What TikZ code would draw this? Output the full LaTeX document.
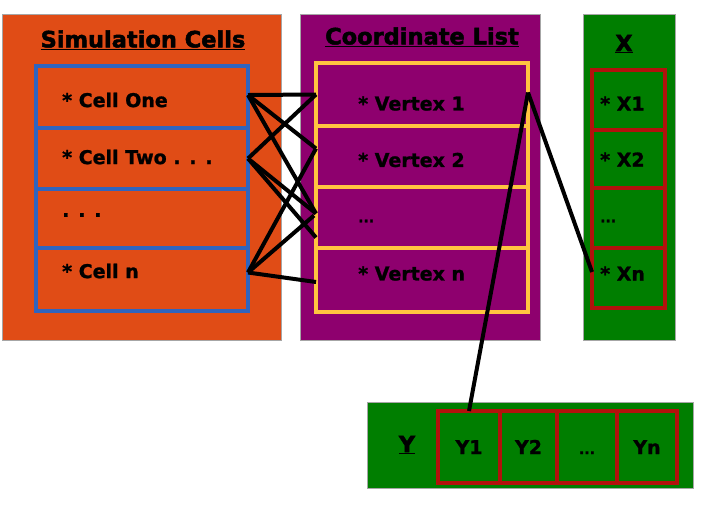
\documentclass[tikz,border=0pt]{standalone}
\usepackage{fontspec}
\setmainfont{DejaVu Sans}[BoldFeatures={FakeBold=1.2}]
\newfontfamily\headfont{DejaVu Sans Bold}[FakeBold=2.2]
\definecolor{cellorange}{RGB}{224,76,22}
\definecolor{listpurple}{RGB}{142,0,110}
\definecolor{arraygreen}{RGB}{0,126,0}
\definecolor{cellblue}{RGB}{48,100,190}
\definecolor{listyellow}{RGB}{255,196,64}
\definecolor{arrayred}{RGB}{178,18,12}
\begin{document}
\begin{tikzpicture}[x=1pt, y=-1pt,
    panel/.style={draw=gray!70, line width=0.6pt},
    row/.style={draw, line width=3.5pt, inner sep=0pt, outer sep=0pt, minimum width=#1},
    title/.style={font=\fontsize{22.5}{26}\selectfont\headfont},
    entry/.style={anchor=west, inner sep=0pt, font=\fontsize{19}{22}\selectfont\bfseries},
    smalldots/.style={anchor=west, inner sep=0pt, font=\fontsize{14}{16}\selectfont\bfseries},
    link/.style={black, line width=4pt}]
    \useasboundingbox (0,0) rectangle (703,507);

    % panels
    \filldraw[panel, fill=cellorange] (2,14) rectangle (281,340);
    \filldraw[panel, fill=listpurple] (300,14) rectangle (540,340);
    \filldraw[panel, fill=arraygreen] (583,14) rectangle (675,340);
    \filldraw[panel, fill=arraygreen] (367,402) rectangle (693,488);

    \node[title] (celltitle) at (143,40) {\underline{Simulation Cells}};
    \node[title] (listtitle) at (422,37) {\underline{Coordinate List}};
    \node[title] (xtitle) at (624,44) {\underline{X}};
    \node[title] (ytitle) at (407,445) {\underline{Y}};

    % simulation cells
    \node[row=212pt, cellblue, minimum height=62pt] (cell1) at (142,97) {};
    \node[row=212pt, cellblue, minimum height=61pt] (cell2) at (142,158.5) {};
    \node[row=212pt, cellblue, minimum height=59pt] (cell3) at (142,218.5) {};
    \node[row=212pt, cellblue, minimum height=63pt] (celln) at (142,279.5) {};
    \node[entry] (tcell1) at (62,100) {* Cell One};
    \node[entry] (tcell2) at (62,157) {* Cell Two . . .};
    \node[entry] (tcell3) at (62,215) {. . .};
    \node[entry] (tcelln) at (62,271) {* Cell n};

    % coordinate list
    \node[row=212pt, listyellow, minimum height=63pt] (vert1) at (422,94.5) {};
    \node[row=212pt, listyellow, minimum height=61pt] (vert2) at (422,156.5) {};
    \node[row=212pt, listyellow, minimum height=61pt] (vert3) at (422,217.5) {};
    \node[row=212pt, listyellow, minimum height=64pt] (vertn) at (422,280) {};
    \node[entry] (tvert1) at (358,103.5) {* Vertex 1};
    \node[entry] (tvert2) at (358,160) {* Vertex 2};
    \node[smalldots] (tvert3) at (358,221) {...};
    \node[entry] (tvertn) at (358,273.5) {* Vertex n};

    % x values
    \node[row=73pt, arrayred, minimum height=60pt] (x1) at (628.5,100) {};
    \node[row=73pt, arrayred, minimum height=58pt] (x2) at (628.5,159) {};
    \node[row=73pt, arrayred, minimum height=60pt] (x3) at (628.5,218) {};
    \node[row=73pt, arrayred, minimum height=60pt] (xn) at (628.5,278) {};
    \node[entry] (tx1) at (600,103.5) {* X1};
    \node[entry] (tx2) at (600,159.5) {* X2};
    \node[smalldots] (tx3) at (600,221) {...};
    \node[entry] (txn) at (600,273.5) {* Xn};

    % y values
    \node[row=62pt, arrayred, minimum height=72pt, text=black, text height=14pt, text depth=0pt, font=\fontsize{19}{22}\selectfont\bfseries] (y1) at (469,447) {Y1};
    \node[row=57pt, arrayred, minimum height=72pt, text=black, text height=14pt, text depth=0pt, font=\fontsize{19}{22}\selectfont\bfseries] (y2) at (528.5,447) {Y2};
    \node[row=60pt, arrayred, minimum height=72pt, text=black, text height=14pt, text depth=0pt, font=\fontsize{14}{16}\selectfont\bfseries] (y3) at (587,447) {...};
    \node[row=60pt, arrayred, minimum height=72pt, text=black, text height=14pt, text depth=0pt, font=\fontsize{19}{22}\selectfont\bfseries] (yn) at (647,447) {Yn};

    % cells to vertices
    \draw[link] ([yshift=2pt]cell1.east) -- (vert1.west);
    \draw[link] ([yshift=2pt]cell1.east) -- ([yshift=8pt]vert2.west);
    \draw[link] ([yshift=2pt]cell1.east) -- ([yshift=4pt]vert3.west);
    \draw[link] (cell2.east) -- (vert1.west);
    \draw[link] (cell2.east) -- ([yshift=4pt]vert3.west);
    \draw[link] (cell2.east) -- ([yshift=-20pt]vert3.west);
    \draw[link] ([yshift=7pt]celln.east) -- ([yshift=8pt]vert2.west);
    \draw[link] ([yshift=7pt]celln.east) -- ([xshift=-2pt,yshift=2pt]vert3.west);
    \draw[link] ([yshift=7pt]celln.east) -- ([yshift=-2pt]vertn.west);

    % vertex to x and y
    \draw[link] ([yshift=2pt]vert1.east) -- ([yshift=6pt]xn.west);
    \draw[link] ([yshift=2pt]vert1.east) -- (y1.north);
\end{tikzpicture}
\end{document}
